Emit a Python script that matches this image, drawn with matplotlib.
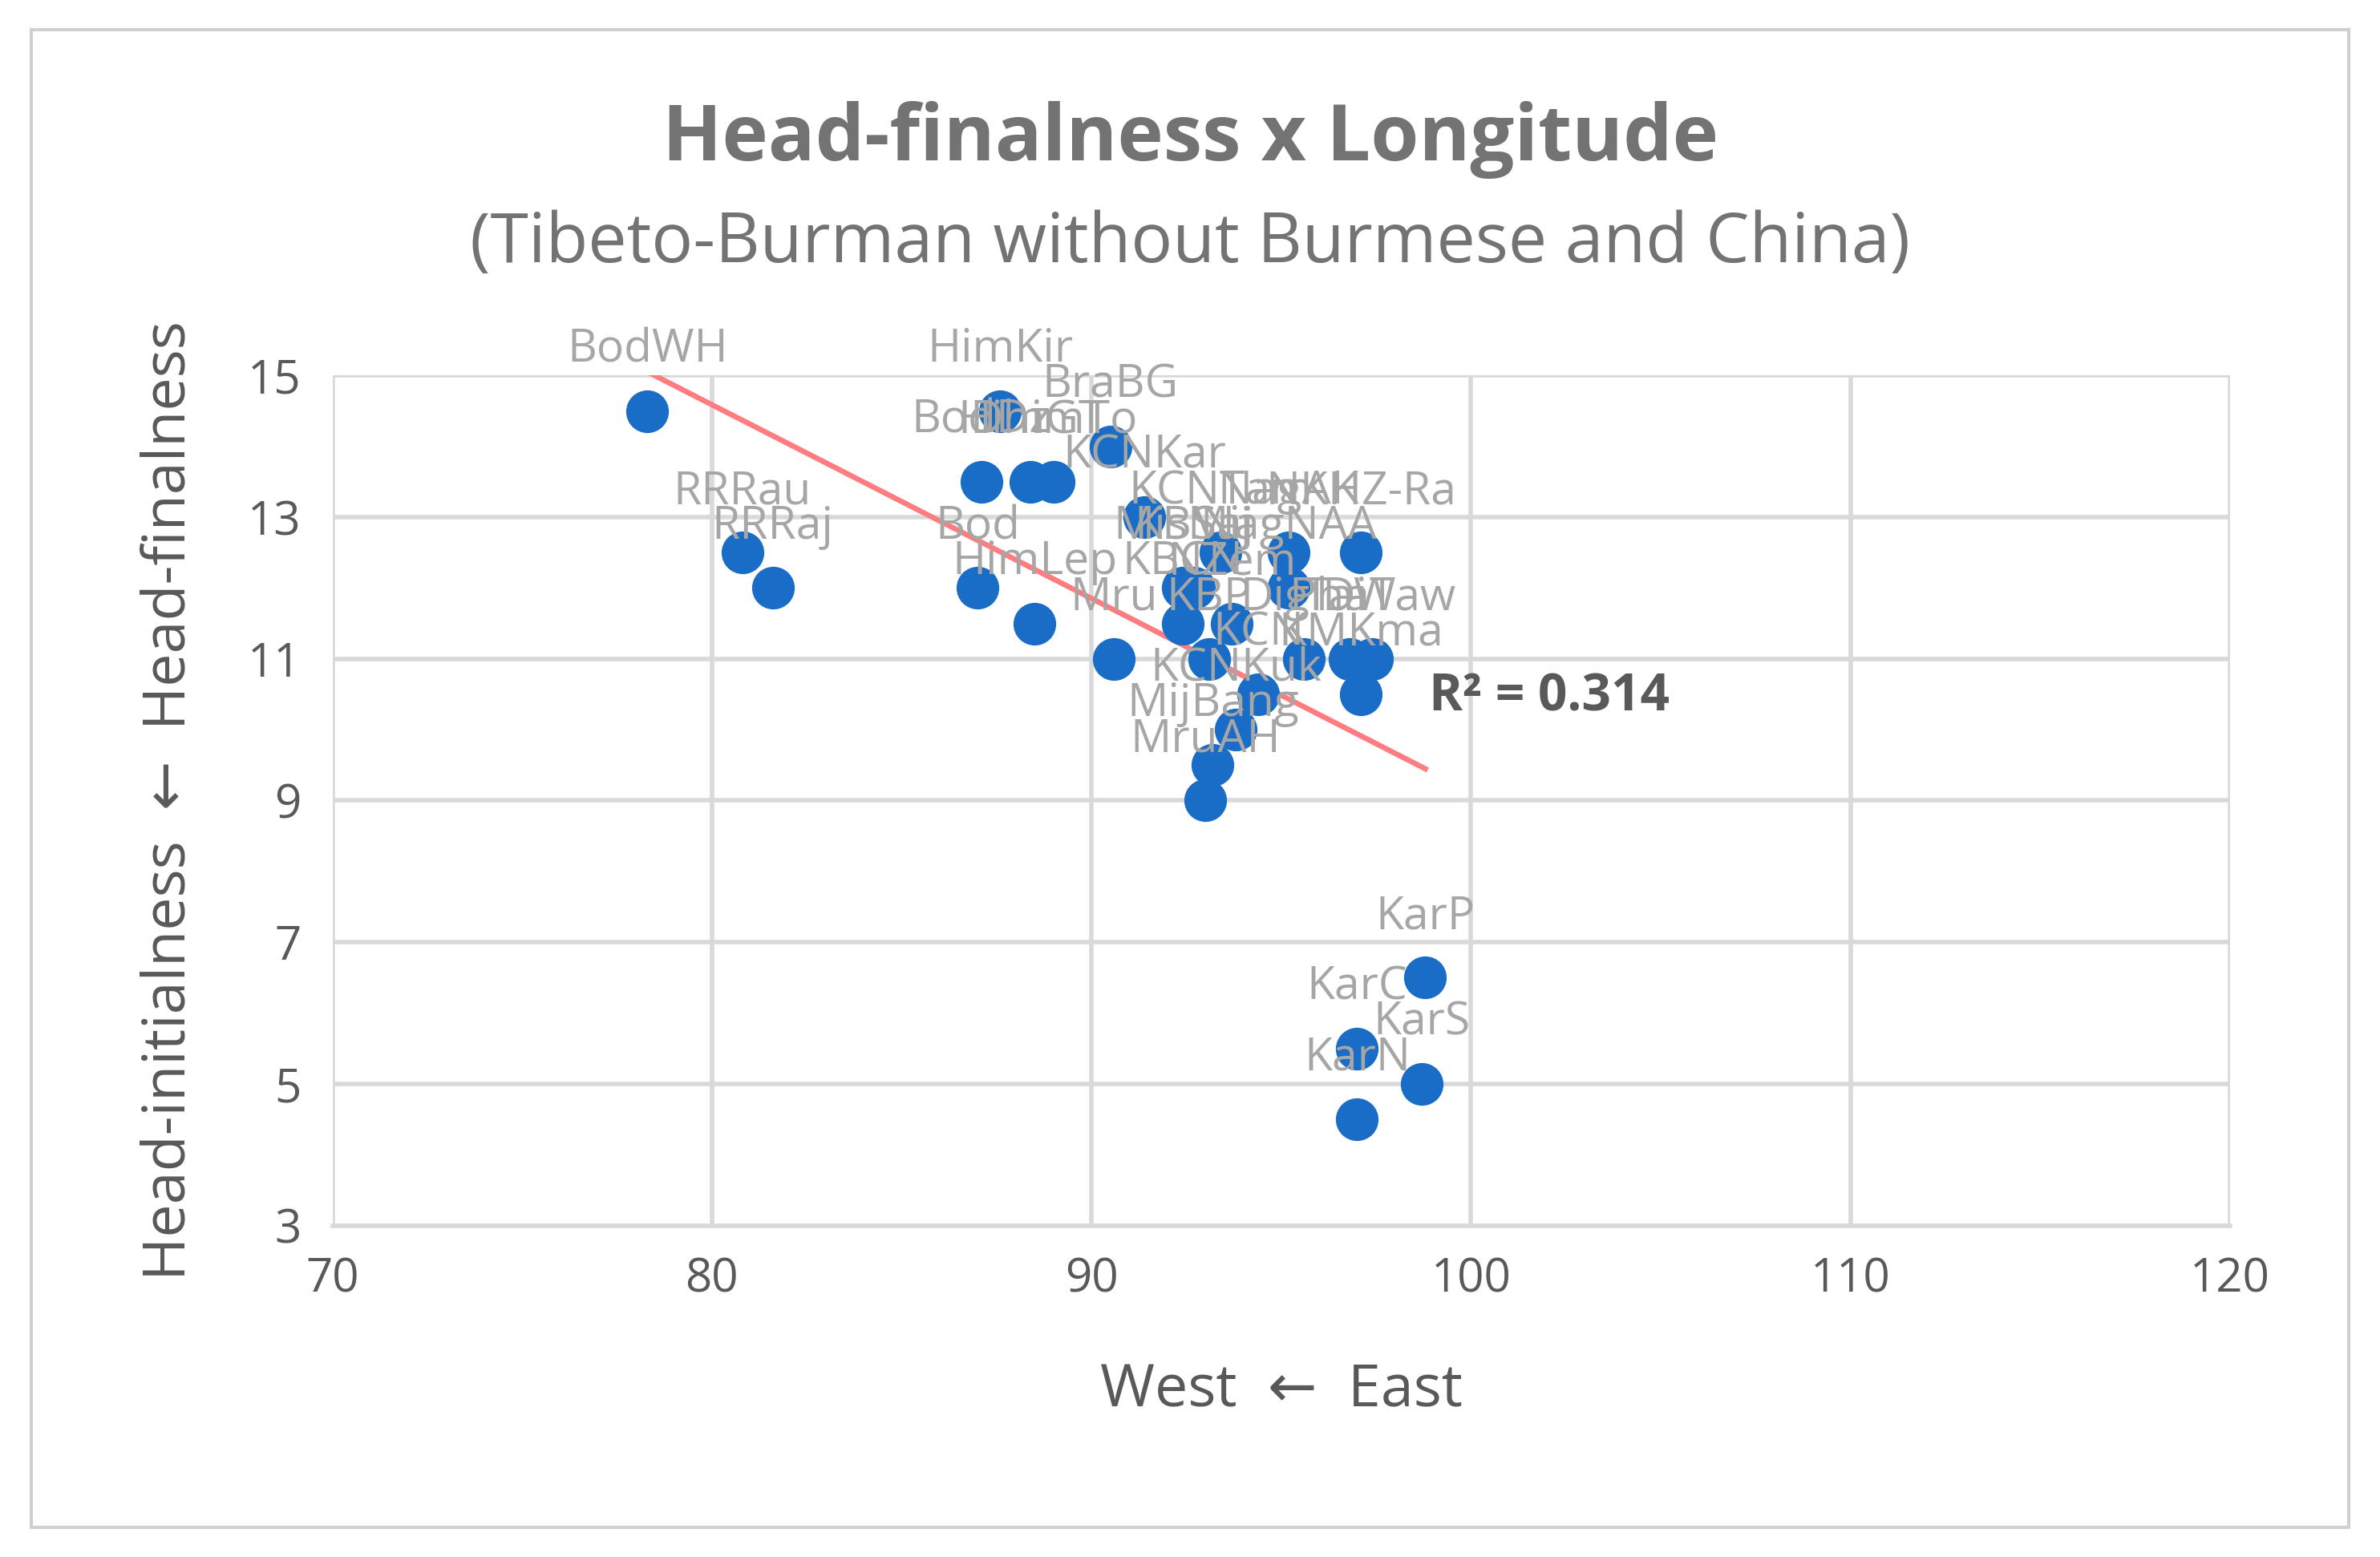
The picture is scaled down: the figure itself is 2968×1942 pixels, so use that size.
import numpy as np
import matplotlib
matplotlib.use("Agg")
import matplotlib.pyplot as plt
from matplotlib.patches import Rectangle

plt.rcParams['font.family'] = ['Open Sans', 'DejaVu Sans']

labels = ["BodWH", "RRRau", "RRRaj", "HimKir", "BodDz", "HimGT", "DhimTo", "BraBG",
          "KCNKar", "KCNTam", "NagAK", "NKHZ-Ra", "Bod", "MisMij", "KBSaj", "NagNAA",
          "HimLep", "KBCN", "NZem", "Mru", "KBP", "DigIDi", "TaW", "PhaTaw",
          "KCN", "KMKma", "KCNKuk", "MijBang", "MruAH",
          "KarP", "KarC", "KarS", "KarN"]
lon = [78.3, 80.8, 81.6, 87.6, 87.1, 88.4, 89.0, 90.5,
       91.4, 93.4, 95.2, 97.1, 87.0, 92.4, 92.7, 95.2,
       88.5, 92.4, 93.7, 90.6, 93.1, 95.6, 96.8, 97.4,
       94.4, 97.1, 93.8, 93.2, 93.0,
       98.8, 97.0, 98.7, 97.0]
head = [14.5, 12.5, 12.0, 14.5, 13.5, 13.5, 13.5, 14.0,
        13.0, 12.5, 12.5, 12.5, 12.0, 12.0, 12.0, 12.0,
        11.5, 11.5, 11.5, 11.0, 11.0, 11.0, 11.0, 11.0,
        10.5, 10.5, 10.0, 9.5, 9.0,
        6.5, 5.5, 5.0, 4.5]
trend_slope = -0.2734
trend_intercept = 36.46
r2_text = "R² = 0.314"

fig = plt.figure(figsize=(14.84, 9.71), dpi=200)
fig.patches.append(Rectangle((0.013, 0.019), 0.974, 0.962, transform=fig.transFigure,
                             fill=False, edgecolor='#d0d0d0', lw=1.5))
ax = fig.add_axes([0.1397, 0.2129, 0.7972, 0.5459])
ax.set_xlim(70, 120)
ax.set_ylim(3, 15)
ax.set_xticks(np.arange(70, 121, 10))
ax.set_yticks(np.arange(3, 16, 2))
ax.grid(True, color='#d9d9d9', lw=2)
ax.set_axisbelow(True)
for s in ['top', 'right', 'left']:
    ax.spines[s].set_visible(False)
ax.spines['bottom'].set_color('#d9d9d9')
ax.spines['bottom'].set_linewidth(2)
ax.tick_params(length=0, labelsize=21, labelcolor='#595959', pad=14)

x = np.array(lon); y = np.array(head)
ax.scatter(x, y, s=330, color='#1a6dc6', zorder=3, clip_on=False)
for lx, ly, t in zip(lon, head, labels):
    ax.annotate(t, (lx, ly), xytext=(0, 17), textcoords='offset points', ha='center',
                va='bottom', fontsize=20.5, color='#a6a6a6', zorder=4, annotation_clip=False)

xs = np.array([x.min(), x.max()])
ax.plot(xs, trend_slope * xs + trend_intercept, color='#ff7c80', lw=2.4, zorder=2)
ax.text(98.9, 10.45, r2_text, fontsize=23, fontweight='bold', color='#595959',
        ha='left', va='center')

ax.set_xlabel("West  ←  East", fontsize=26.5, color='#595959', labelpad=26)
ax.set_ylabel("Head-initialness  ←  Head-finalness", fontsize=26.5, color='#595959', labelpad=22)

fig.text(0.5, 0.91, "Head-finalness x Longitude", ha='center', va='center',
         fontsize=35, fontweight='bold', color='#737373')
fig.text(0.5, 0.843, "(Tibeto-Burman without Burmese and China)", ha='center', va='center',
         fontsize=31, color='#737373')

fig.savefig("out.png", dpi=200)
